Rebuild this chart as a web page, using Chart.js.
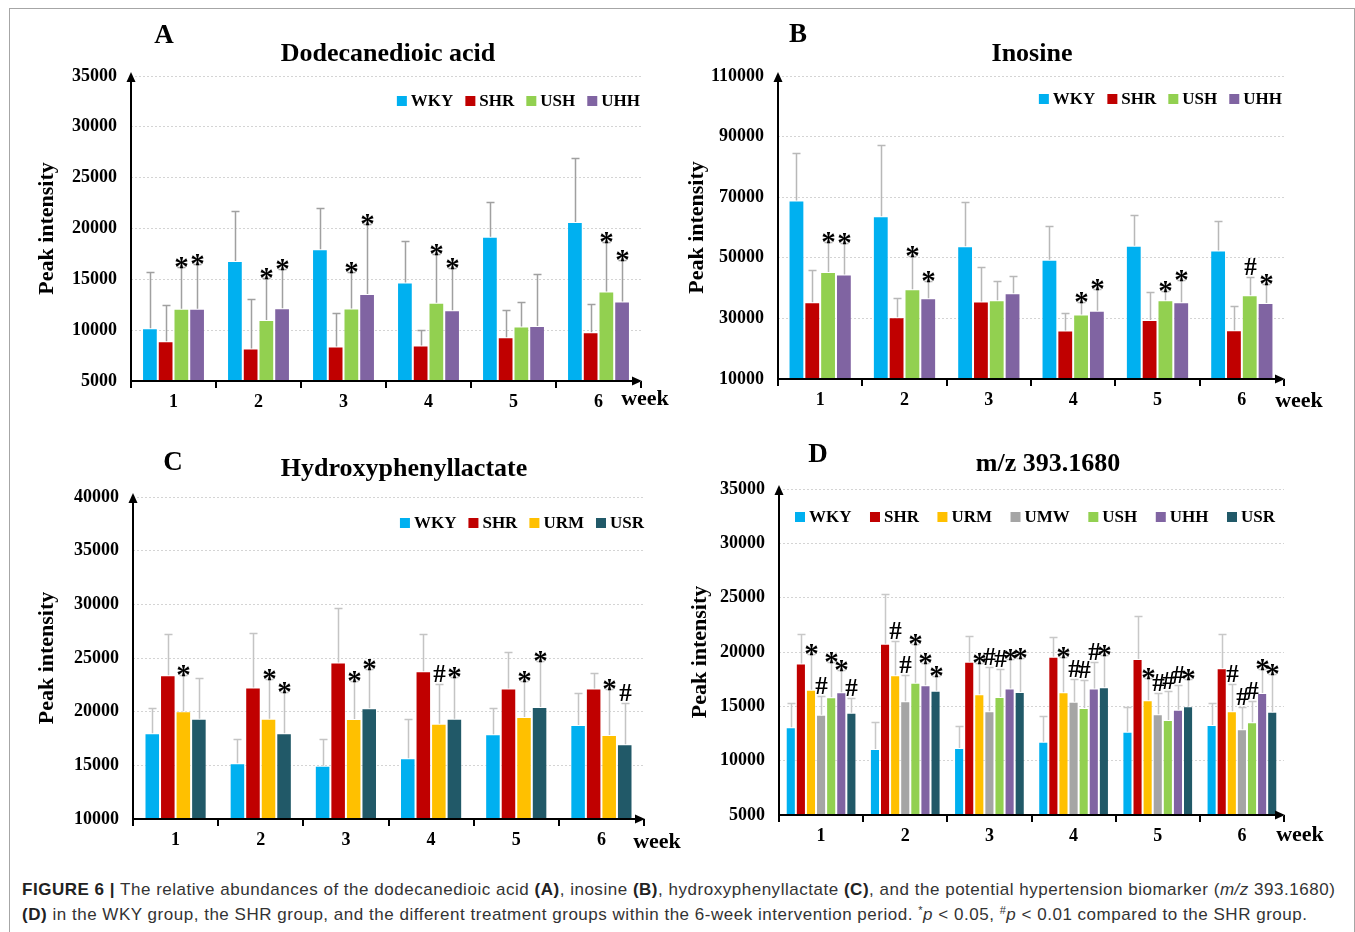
<!DOCTYPE html>
<html>
<head>
<meta charset="utf-8">
<script src="https://cdn.jsdelivr.net/npm/chart.js@4.4.1/dist/chart.umd.min.js"></script>
<style>
body{margin:0;background:#fff;width:1355px;height:932px;overflow:hidden;position:relative;font-family:'Liberation Serif','Times New Roman',serif;}
#frame{position:absolute;left:9px;top:8px;width:1344px;height:960px;border:1px solid #a6a6a6;}
canvas{position:absolute;}
.lbl{position:absolute;font-weight:bold;transform:translate(-50%,-50%);white-space:nowrap;color:#000;}
.letter{font-size:27px;}
.title{font-size:26px;}
.cap{position:absolute;left:22px;font-family:'Liberation Sans',Arial,sans-serif;font-size:17px;letter-spacing:0.52px;color:#333;line-height:20px;white-space:nowrap;}
.cap b{color:#222;}
.cap sup{font-size:11px;line-height:0;vertical-align:6px;}
</style>
</head>
<body>
<div id="frame"></div>
<canvas id="cA" width="670" height="400" style="left:15px;top:20px"></canvas>
<canvas id="cB" width="670" height="400" style="left:680px;top:20px"></canvas>
<canvas id="cC" width="670" height="420" style="left:15px;top:440px"></canvas>
<canvas id="cD" width="670" height="420" style="left:680px;top:440px"></canvas>

<div class="lbl letter" style="left:164px;top:34px">A</div>
<div class="lbl title" style="left:388px;top:53px">Dodecanedioic acid</div>
<div class="lbl letter" style="left:798px;top:33px">B</div>
<div class="lbl title" style="left:1032px;top:53px">Inosine</div>
<div class="lbl letter" style="left:173px;top:461px">C</div>
<div class="lbl title" style="left:404px;top:468px">Hydroxyphenyllactate</div>
<div class="lbl letter" style="left:818px;top:453px">D</div>
<div class="lbl title" style="left:1048px;top:463px">m/z 393.1680</div>

<div class="cap" style="top:880px"><b>FIGURE 6 |</b> The relative abundances of the dodecanedioic acid <b>(A)</b>, inosine <b>(B)</b>, hydroxyphenyllactate <b>(C)</b>, and the potential hypertension biomarker (<i>m/z</i> 393.1680)</div>
<div class="cap" style="top:905px"><b>(D)</b> in the WKY group, the SHR group, and the different treatment groups within the 6-week intervention period. <sup>*</sup><i>p</i> &lt; 0.05, <sup>#</sup><i>p</i> &lt; 0.01 compared to the SHR group.</div>

<script>
const weeks = ['1', '2', '3', '4', '5', '6'];

// A  dodecanedioic acid
const ddaWKY = [10200, 16800, 17950, 14700, 19200, 20650];
const ddaWKYsd = [5550, 4900, 4100, 4100, 3450, 6250];
const ddaSHR = [8900, 8200, 8400, 8500, 9300, 9800];
const ddaSHRsd = [3600, 4850, 3250, 1470, 2650, 2750];
const ddaUSH = [12100, 11000, 12130, 12700, 10350, 13800];
const ddaUSHsd = [4150, 4100, 3620, 4780, 2400, 4830];
const ddaUHH = [12100, 12150, 13550, 11970, 10420, 12820];
const ddaUHHsd = [4430, 3850, 6850, 4130, 5120, 4040];
const ddaUSHsig = ['*', '*', '*', '*', '', '*'];
const ddaUHHsig = ['*', '*', '*', '*', '', '*'];

// B  inosine
const inoWKY = [68900, 63750, 53850, 49350, 54000, 52450];
const inoWKYsd = [15850, 23550, 14650, 11000, 10200, 9850];
const inoSHR = [35300, 30400, 35600, 26000, 29500, 26100];
const inoSHRsd = [10700, 6400, 11200, 5800, 9300, 8000];
const inoUSH = [45300, 39600, 36000, 31300, 36000, 37650];
const inoUSHsd = [9900, 11050, 6300, 3950, 3150, 5850];
const inoUHH = [44450, 36650, 38300, 32500, 35350, 35100];
const inoUHHsd = [10550, 5800, 5850, 7350, 7450, 6250];
const inoUSHsig = ['*', '*', '', '*', '*', '#'];
const inoUHHsig = ['*', '*', '', '*', '*', '*'];

// C  hydroxyphenyllactate
const hplWKY = [18000, 15200, 14950, 15650, 17900, 18750];
const hplWKYsd = [2370, 2270, 2460, 3640, 2410, 2960];
const hplSHR = [23400, 22250, 24570, 23770, 22150, 22150];
const hplSHRsd = [3870, 5080, 5080, 3470, 3380, 1490];
const hplURM = [20030, 19350, 19320, 18880, 19500, 17830];
const hplURMsd = [3350, 3700, 3570, 3720, 3380, 4250];
const hplUSR = [19350, 17990, 20310, 19350, 20440, 16960];
const hplUSRsd = [3810, 3810, 3670, 3900, 4310, 3840];
const hplURMsig = ['*', '*', '*', '#', '*', '*'];
const hplUSRsig = ['', '*', '*', '*', '*', '#'];

// D  m/z 393.1680
const mzWKY = [13070, 11080, 11170, 11730, 12670, 13290];
const mzWKYsd = [2270, 2510, 2050, 2410, 2300, 2050];
const mzSHR = [18950, 20750, 19110, 19570, 19360, 18500];
const mzSHRsd = [2750, 4600, 2330, 1810, 3950, 3150];
const mzURM = [16530, 17850, 16120, 16290, 15550, 14540];
const mzURMsd = [3270, 3150, 2890, 3250, 2090, 2540];
const mzUMW = [14230, 15460, 14540, 15430, 14270, 12890];
const mzUMWsd = [1750, 2450, 4100, 2050, 1920, 2080];
const mzUSH = [15830, 17170, 15870, 14850, 13750, 13530];
const mzUSHsd = [3280, 3610, 2600, 2570, 2660, 1960];
const mzUHH = [16300, 16930, 16630, 16630, 14690, 16220];
const mzUHHsd = [2080, 2080, 2730, 2450, 2300, 2250];
const mzUSR = [14400, 16440, 16330, 16750, 15000, 14510];
const mzUSRsd = [1400, 1350, 3090, 3010, 2480, 3460];
const mzURMsig = ['*', '#', '*', '*', '*', '#'];
const mzUMWsig = ['#', '#', '#', '#', '#', '#'];
const mzUSHsig = ['*', '*', '#', '#', '#', '#'];
const mzUHHsig = ['*', '*', '*', '#', '#', '*'];
const mzUSRsig = ['#', '*', '*', '*', '*', '*'];

const colors = {
  WKY: '#00B0F0', SHR: '#C00000', URM: '#FFC000', UMW: '#A5A5A5',
  USH: '#92D050', UHH: '#8064A2', USR: '#215968'
};
const serif = "'Liberation Serif', 'Times New Roman', serif";

// error bars, marks, axis arrows, in-plot legend, axis titles
const extras = {
  id: 'extras',
  afterDatasetsDraw(chart, args, o) {
    const ctx = chart.ctx, a = chart.chartArea, y = chart.scales.y;
    ctx.save();
    chart.data.datasets.forEach((ds, i) => {
      chart.getDatasetMeta(i).data.forEach((bar, j) => {
        const t = Math.round(y.getPixelForValue(ds.data[j] + ds.sd[j])) + 0.5;
        const x = Math.round(bar.x) + 0.5;
        ctx.strokeStyle = o.err;
        ctx.lineWidth = 1.5;
        ctx.beginPath();
        ctx.moveTo(x, bar.y);
        ctx.lineTo(x, t);
        ctx.moveTo(x - 4, t);
        ctx.lineTo(x + 4, t);
        ctx.stroke();
        const s = ds.sig[j];
        if (s) {
          ctx.fillStyle = '#000';
          ctx.textAlign = 'center';
          ctx.textBaseline = 'alphabetic';
          if (s === '*') {
            ctx.font = 'bold 29px ' + serif;
            ctx.fillText(s, x, t + 8);
          } else {
            ctx.font = 'bold 25px ' + serif;
            ctx.fillText(s, x, t - 3);
          }
        }
      });
    });

    // axes with arrows
    ctx.strokeStyle = '#000';
    ctx.fillStyle = '#000';
    ctx.lineWidth = 2;
    ctx.beginPath();
    ctx.moveTo(a.left, a.bottom);
    ctx.lineTo(a.left, a.top + 2);
    ctx.moveTo(a.left - 1, a.bottom);
    ctx.lineTo(a.right - 4, a.bottom);
    ctx.stroke();
    ctx.beginPath();
    ctx.moveTo(a.left, a.top - 4);
    ctx.lineTo(a.left - 4.5, a.top + 6);
    ctx.lineTo(a.left + 4.5, a.top + 6);
    ctx.fill();
    ctx.beginPath();
    ctx.moveTo(a.right + 1, a.bottom);
    ctx.lineTo(a.right - 9, a.bottom - 4.5);
    ctx.lineTo(a.right - 9, a.bottom + 4.5);
    ctx.fill();

    // legend inside plot
    ctx.font = 'bold 17px ' + serif;
    ctx.textBaseline = 'middle';
    ctx.textAlign = 'left';
    const items = chart.data.datasets.map(d => ({ t: d.label, c: d.backgroundColor, w: 14 + ctx.measureText(d.label).width }));
    const sum = items.reduce((p, it) => p + it.w, 0);
    let x, gap;
    if (o.legJustify) {
      const x0 = a.left + o.legX0, x1 = a.right + o.legX1;
      gap = (x1 - x0 - sum) / (items.length - 1);
      x = x0;
    } else {
      gap = o.legGap;
      x = a.right + o.legX1 - sum - gap * (items.length - 1);
    }
    const ly = a.top + o.legY;
    items.forEach(it => {
      ctx.fillStyle = it.c;
      ctx.fillRect(x, ly - 5, 10, 10);
      ctx.fillStyle = '#000';
      ctx.fillText(it.t, x + 14, ly + 1);
      x += it.w + gap;
    });

    // y title and "week"
    ctx.font = 'bold 22px ' + serif;
    ctx.textAlign = 'center';
    ctx.save();
    ctx.translate(o.yTitleX, (a.top + a.bottom) / 2);
    ctx.rotate(-Math.PI / 2);
    ctx.fillText('Peak intensity', 0, 0);
    ctx.restore();
    ctx.fillText('week', a.right + o.weekDx, a.bottom + o.weekDy);
    ctx.restore();
  }
};

function panel(id, sets, o) {
  return new Chart(document.getElementById(id), {
    type: 'bar',
    data: {
      labels: weeks,
      datasets: sets.map(s => ({
        label: s[0],
        data: s[1],
        sd: s[2],
        sig: s[3] || [],
        backgroundColor: colors[s[0]],
        borderColor: 'rgba(255,255,255,0.45)',
        borderWidth: 1,
        categoryPercentage: o.cat,
        barPercentage: 1
      }))
    },
    options: {
      responsive: false,
      animation: false,
      devicePixelRatio: 1,
      layout: { padding: { top: o.top, right: o.right, left: 0, bottom: 0 } },
      plugins: { legend: { display: false }, tooltip: { enabled: false }, extras: o },
      scales: {
        x: {
          grid: { display: true, drawOnChartArea: false, color: '#000', lineWidth: 2, tickLength: 7, offset: true },
          border: { display: false },
          ticks: { color: '#000', font: { family: serif, size: 18, weight: 'bold' }, padding: 4 },
          afterFit(s) { s.height = o.xH; }
        },
        y: {
          min: o.min, max: o.max,
          ticks: { stepSize: o.step, color: '#000', padding: 14, font: { family: serif, size: 18, weight: 'bold' }, callback: v => String(v) },
          grid: { color: '#d4d4d4', drawTicks: false },
          border: { display: false, dash: [2, 2] },
          afterFit(s) { s.width = o.yW; }
        }
      }
    },
    plugins: [extras]
  });
}

panel('cA', [
  ['WKY', ddaWKY, ddaWKYsd],
  ['SHR', ddaSHR, ddaSHRsd],
  ['USH', ddaUSH, ddaUSHsd, ddaUSHsig],
  ['UHH', ddaUHH, ddaUHHsd, ddaUHHsig]
], { min: 5000, max: 35000, step: 5000, top: 56, right: 44, yW: 116, xH: 39, cat: 0.74,
     err: '#a0a0a0', legGap: 12, legX1: -1, legY: 25, yTitleX: 32, weekDx: 4, weekDy: 18 });

panel('cB', [
  ['WKY', inoWKY, inoWKYsd],
  ['SHR', inoSHR, inoSHRsd],
  ['USH', inoUSH, inoUSHsd, inoUSHsig],
  ['UHH', inoUHH, inoUHHsd, inoUHHsig]
], { min: 10000, max: 110000, step: 20000, top: 56, right: 66, yW: 98, xH: 41, cat: 0.75,
     err: '#b8b8b8', legGap: 12, legX1: -2, legY: 23, yTitleX: 17, weekDx: 15, weekDy: 22 });

panel('cC', [
  ['WKY', hplWKY, hplWKYsd],
  ['SHR', hplSHR, hplSHRsd],
  ['URM', hplURM, hplURMsd, hplURMsig],
  ['USR', hplUSR, hplUSRsd, hplUSRsig]
], { min: 10000, max: 40000, step: 5000, top: 57, right: 41, yW: 118, xH: 41, cat: 0.73,
     err: '#c4c4c4', legGap: 12, legX1: 0, legY: 26, yTitleX: 32, weekDx: 13, weekDy: 23 });

panel('cD', [
  ['WKY', mzWKY, mzWKYsd],
  ['SHR', mzSHR, mzSHRsd],
  ['URM', mzURM, mzURMsd, mzURMsig],
  ['UMW', mzUMW, mzUMWsd, mzUMWsig],
  ['USH', mzUSH, mzUSHsd, mzUSHsig],
  ['UHH', mzUHH, mzUHHsd, mzUHHsig],
  ['USR', mzUSR, mzUSRsd, mzUSRsig]
], { min: 5000, max: 35000, step: 5000, top: 49, right: 66, yW: 99, xH: 45, cat: 0.84,
     err: '#c8c8c8', legJustify: true, legX0: 16, legX1: -9, legY: 28, yTitleX: 20, weekDx: 16, weekDy: 20 });
</script>
</body>
</html>
